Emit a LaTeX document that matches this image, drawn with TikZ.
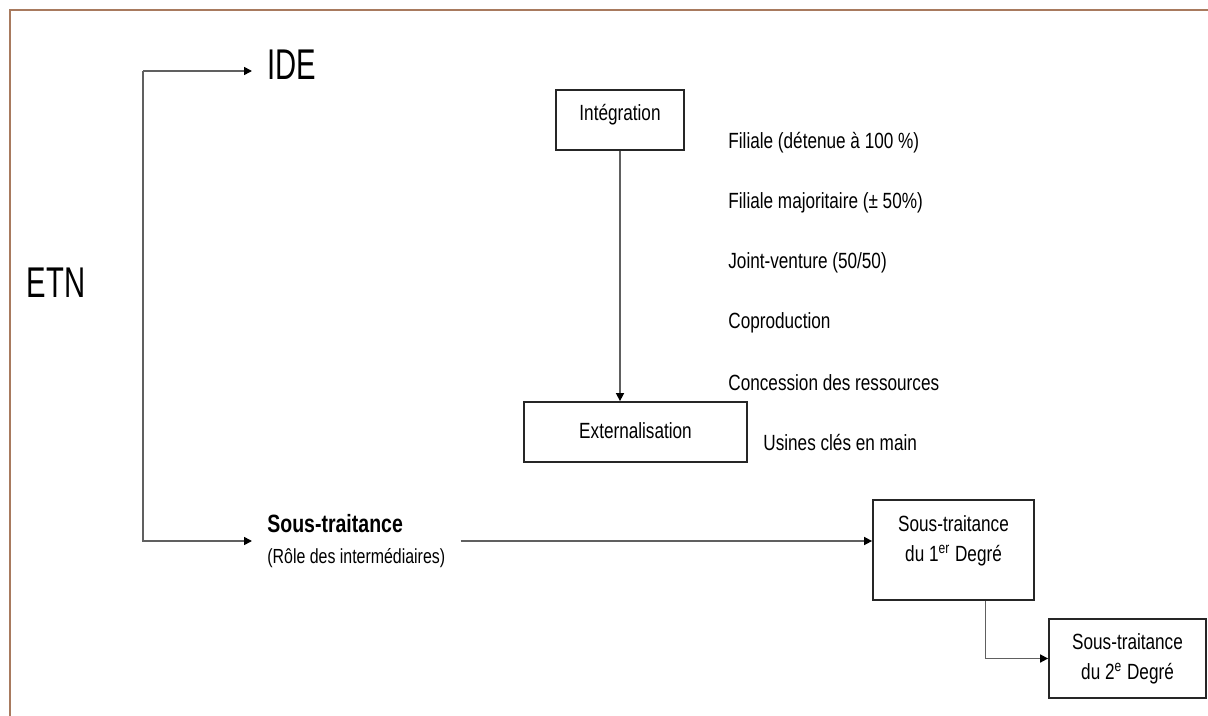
\documentclass[tikz,border=0pt]{standalone}
\usepackage{fontspec}
\setmainfont{Liberation Sans}[FakeStretch=0.78]
\newfontfamily\bignarrow{Liberation Sans}[FakeStretch=0.68]
\usetikzlibrary{positioning,calc,arrows.meta}
\definecolor{framebrown}{HTML}{A87A5E}
\definecolor{linegray}{HTML}{606060}

\begin{document}
\begin{tikzpicture}[x=0.5pt,y=-0.5pt,
   big/.style={font=\bignarrow\fontsize{21.5}{24}\selectfont, inner sep=0pt},
   box/.style={draw=black!85, line width=0.9pt, font=\fontsize{11}{15}\selectfont},
   item/.style={anchor=west, inner sep=0pt, font=\fontsize{11}{13}\selectfont},
   conn/.style={draw=linegray, line width=0.8pt, -{Triangle[length=4pt,width=4pt,color=black]}}]
   \useasboundingbox (0,0) rectangle (1208,716);
   \draw[framebrown, line width=1pt] (10,716) -- (10,10) -- (1208,10);

   \node[big] (etn) at (56,283) {ETN};
   \node[big, anchor=west, inner xsep=7.5pt] (ide) at (252,65) {IDE};
   \node[anchor=west, align=left, inner xsep=7.5pt, inner ysep=0pt,
         font=\fontsize{10.2}{15.5}\selectfont] (sous) at (252,541)
   {{\bfseries\fontsize{12.5}{15}\selectfont Sous-traitance}\\(Rôle des intermédiaires)};

   \node[box, minimum width=64pt, minimum height=30pt] (integ) at (620,120)
   {\begin{tabular}{@{}c@{}} Intégration \\[5pt] \end{tabular}};
   \node[box, minimum width=111.5pt, minimum height=30pt] (ext) at (635.5,432)
   {\begin{tabular}{@{}c@{}} Externalisation \end{tabular}};
   \node[box, minimum width=80.5pt, minimum height=50pt] (deg1) at (953.5,550)
   {\begin{tabular}{@{}c@{}} Sous-traitance \\ du 1\textsuperscript{er} Degré \\[10pt] \end{tabular}};
   \node[box, minimum width=78.5pt, minimum height=39.5pt] (deg2) at (1127.5,658.5)
   {\begin{tabular}{@{}c@{}} Sous-traitance \\ du 2\textsuperscript{e} Degré \end{tabular}};

   % formes d'integration
   \foreach \txt [count=\i from 0] in {Filiale (détenue à 100 \%), Filiale majoritaire (± 50\%),
      Joint-venture (50/50), Coproduction, Concession des ressources}
      \node[item] (item\i) at (728,{143+60*\i}) {\txt};
   \node[item] (usines) at (763,443) {Usines clés en main};

   % connecteurs
   \coordinate (fork) at (143,71);
   \draw[conn] (fork) -- (fork -| ide.west);
   \draw[conn] (fork) |- (sous.west);
   \draw[conn] (sous.east) -- (sous.east -| deg1.west);
   \draw[conn] (integ) -- (integ |- ext.north);
   \draw[conn] ([xshift=16pt]deg1.south) |- (deg2.west);
\end{tikzpicture}
\end{document}
